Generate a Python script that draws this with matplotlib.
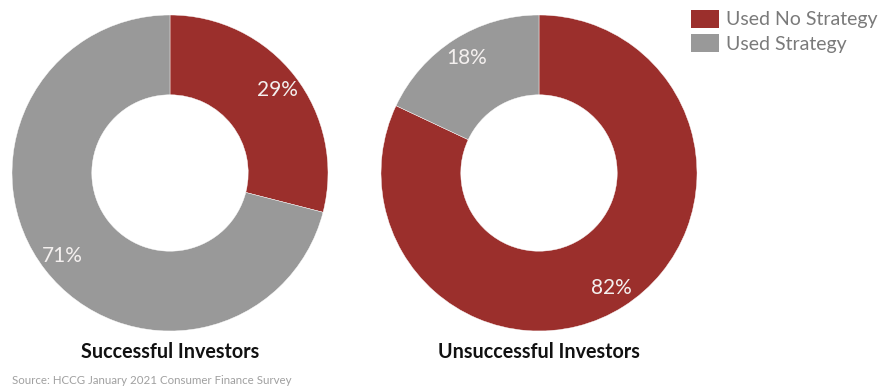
import matplotlib
matplotlib.use("Agg")
import matplotlib.pyplot as plt
from matplotlib.patches import Patch

# Survey shares (percent)
categories = ["Used No Strategy", "Used Strategy"]
successful = [29, 71]
unsuccessful = [82, 18]
titles = ["Successful Investors", "Unsuccessful Investors"]
source = "Source: HCCG January 2021 Consumer Finance Survey"

colors = ["#9B2F2C", "#999999"]
FONT = ["Lato", "DejaVu Sans"]

W, H = 888, 390
fig = plt.figure(figsize=(W / 100, H / 100), dpi=100)
ax = fig.add_axes([0, 0, 1, 1])

R = 158
centers = [(170, H - 173), (539, H - 173)]

for (cx, cy), vals, title in zip(centers, [successful, unsuccessful], titles):
    ax.pie(
        vals, colors=colors, startangle=90, counterclock=False,
        radius=R, center=(cx, cy), frame=True,
        wedgeprops=dict(width=R * 0.505, edgecolor="white", linewidth=0.3),
        autopct=lambda p: f"{p:.0f}%", pctdistance=0.86,
        textprops=dict(color="#f4f0ef", fontsize=15, family=FONT),
    )
    ax.text(cx, H - 352, title, ha="center", va="center",
            fontsize=14.2, fontweight="bold", color="#111111", family=FONT)

ax.set_xlim(0, W)
ax.set_ylim(0, H)
ax.set_aspect("equal")
ax.axis("off")

ax.text(12, H - 381, source, ha="left", va="center",
        fontsize=8.3, color="#a0a0a0", family=FONT)

handles = [Patch(facecolor=c, edgecolor="none") for c in colors]
fig.legend(handles, categories, loc="upper left",
           bbox_to_anchor=(683 / W, 1 - 2 / H), frameon=False,
           prop=dict(family=FONT, size=14), labelcolor="#7a7a7a",
           handlelength=1.45, handleheight=1.05, handletextpad=0.35,
           labelspacing=0.3, borderaxespad=0)

fig.savefig("out.png", dpi=100, facecolor="white")
